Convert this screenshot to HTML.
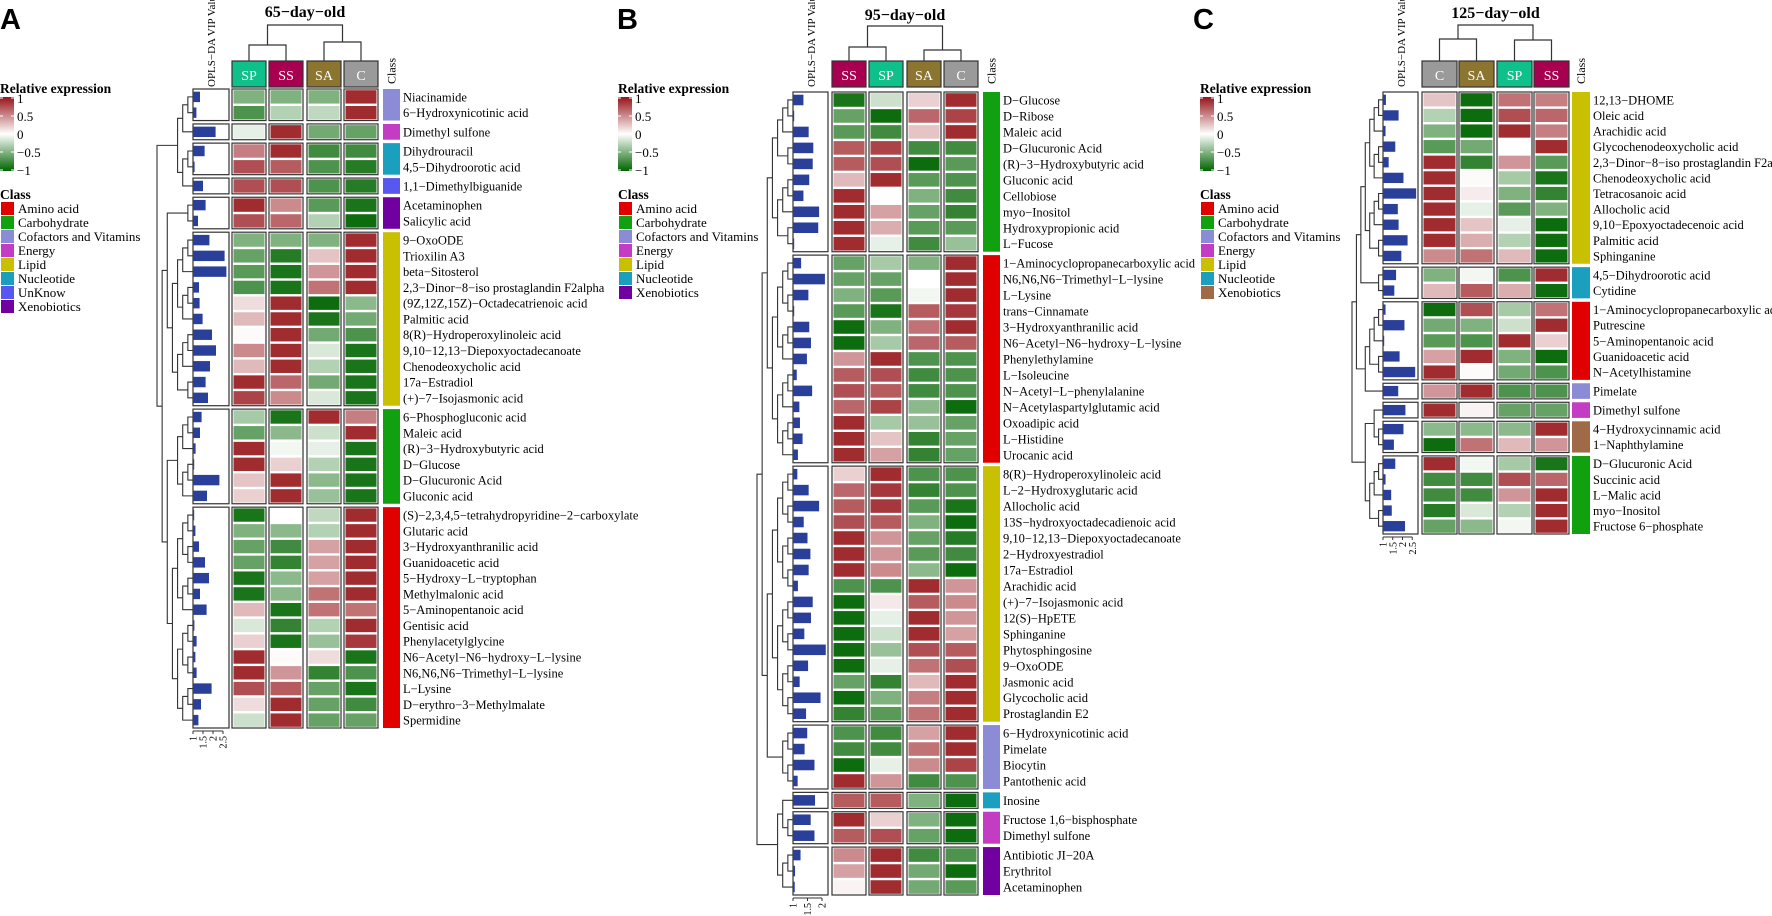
<!DOCTYPE html>
<html><head><meta charset="utf-8"><style>
html,body{margin:0;padding:0;background:#fff;}
svg{display:block;font-family:"Liberation Serif",serif;}
</style></head><body>
<svg id="fig" width="1772" height="916" viewBox="0 0 1772 916" xmlns="http://www.w3.org/2000/svg"></svg>
<script>
// ===== Panel A data (65-day-old) =====
const colsA = ['SP','SS','SA','C'];
const groupClassA = ['Cofactors and Vitamins','Energy','Nucleotide','UnKnow','Xenobiotics','Lipid','Carbohydrate','Amino acid'];
const groupSizeA = [2,1,2,1,2,11,6,14];
const namesA = ['Niacinamide','6−Hydroxynicotinic acid','Dimethyl sulfone','Dihydrouracil','4,5−Dihydroorotic acid','1,1−Dimethylbiguanide','Acetaminophen','Salicylic acid',
'9−OxoODE','Trioxilin A3','beta−Sitosterol','2,3−Dinor−8−iso prostaglandin F2alpha','(9Z,12Z,15Z)−Octadecatrienoic acid','Palmitic acid','8(R)−Hydroperoxylinoleic acid','9,10−12,13−Diepoxyoctadecanoate','Chenodeoxycholic acid','17a−Estradiol','(+)−7−Isojasmonic acid',
'6−Phosphogluconic acid','Maleic acid','(R)−3−Hydroxybutyric acid','D−Glucose','D−Glucuronic Acid','Gluconic acid',
'(S)−2,3,4,5−tetrahydropyridine−2−carboxylate','Glutaric acid','3−Hydroxyanthranilic acid','Guanidoacetic acid','5−Hydroxy−L−tryptophan','Methylmalonic acid','5−Aminopentanoic acid','Gentisic acid','Phenylacetylglycine','N6−Acetyl−N6−hydroxy−L−lysine','N6,N6,N6−Trimethyl−L−lysine','L−Lysine','D−erythro−3−Methylmalate','Spermidine'];
const vipA = [1.35,1.17,2.13,1.58,1.08,1.5,1.63,1.25,
1.82,2.58,2.67,1.3,1.33,1.48,1.95,2.15,1.85,1.63,1.75,
1.43,1.35,1.13,1.02,2.32,1.7,
1.0,1.12,1.3,1.6,1.8,1.35,1.68,1.07,1.18,1.12,1.18,1.93,1.4,1.27];
const valsA = [[-0.5,-0.5,-0.5,0.9],[-0.7,-0.3,-0.25,0.9],[-0.1,0.9,-0.55,-0.6],[0.55,0.9,-0.75,-0.75],[0.75,0.7,-0.7,-0.85],[0.75,0.75,-0.7,-0.85],[0.9,0.5,-0.65,-0.9],[0.75,0.65,-0.3,-0.95],
[-0.5,-0.5,-0.5,0.9],[-0.6,-0.85,0.25,0.9],[-0.65,-0.9,0.45,0.9],[-0.7,-0.9,0.6,0.9],[0.15,0.9,-0.95,-0.45],[0.3,0.9,-0.9,-0.55],[0.02,0.9,-0.55,-0.7],[0.5,0.9,-0.15,-0.9],[0.3,0.9,-0.3,-0.9],[0.9,0.65,-0.55,-0.9],[0.8,0.5,-0.15,-0.9],
[-0.35,-0.9,0.9,0.55],[-0.6,-0.45,-0.2,0.9],[0.9,-0.05,-0.1,-0.9],[0.9,0.2,-0.3,-0.9],[0.25,0.9,-0.45,-0.9],[0.2,0.9,-0.4,-0.9],
[-0.9,0.0,-0.25,0.9],[-0.5,-0.45,-0.3,0.9],[-0.6,-0.75,0.4,0.9],[-0.6,-0.8,0.4,0.9],[-0.9,-0.45,0.4,0.9],[-0.9,-0.45,0.6,0.9],[0.3,-0.9,0.6,0.6],[-0.15,-0.8,-0.3,0.9],[0.2,-0.9,-0.4,0.85],[0.9,0.02,0.15,-0.9],[0.9,0.45,-0.8,-0.7],[0.75,0.7,-0.6,-0.9],[0.15,0.9,-0.6,-0.75],[-0.2,0.9,-0.6,-0.6]];
const vipTicksA = ['1','1.5','2','2.5'];

// ===== Panel B data (95-day-old) =====
const colsB = ['SS','SP','SA','C'];
const groupClassB = ['Carbohydrate','Amino acid','Lipid','Cofactors and Vitamins','Nucleotide','Energy','Xenobiotics'];
const groupSizeB = [10,13,16,4,1,2,3];
const namesB = ['D−Glucose','D−Ribose','Maleic acid','D−Glucuronic Acid','(R)−3−Hydroxybutyric acid','Gluconic acid','Cellobiose','myo−Inositol','Hydroxypropionic acid','L−Fucose',
'1−Aminocyclopropanecarboxylic acid','N6,N6,N6−Trimethyl−L−lysine','L−Lysine','trans−Cinnamate','3−Hydroxyanthranilic acid','N6−Acetyl−N6−hydroxy−L−lysine','Phenylethylamine','L−Isoleucine','N−Acetyl−L−phenylalanine','N−Acetylaspartylglutamic acid','Oxoadipic acid','L−Histidine','Urocanic acid',
'8(R)−Hydroperoxylinoleic acid','L−2−Hydroxyglutaric acid','Allocholic acid','13S−hydroxyoctadecadienoic acid','9,10−12,13−Diepoxyoctadecanoate','2−Hydroxyestradiol','17a−Estradiol','Arachidic acid','(+)−7−Isojasmonic acid','12(S)−HpETE','Sphinganine','Phytosphingosine','9−OxoODE','Jasmonic acid','Glycocholic acid','Prostaglandin E2',
'6−Hydroxynicotinic acid','Pimelate','Biocytin','Pantothenic acid','Inosine','Fructose 1,6−bisphosphate','Dimethyl sulfone','Antibiotic JI−20A','Erythritol','Acetaminophen'];
const vipB = [1.36,1.0,1.54,1.7,1.68,1.56,1.36,1.9,1.87,1.0,
1.28,2.1,1.53,1.0,1.56,1.62,1.48,1.13,1.66,1.22,1.24,1.33,1.17,
1.15,1.54,1.9,1.37,1.5,1.6,1.54,1.17,1.68,1.62,1.39,2.13,1.52,1.23,1.95,1.45,
1.49,1.4,1.74,1.16,1.76,1.61,1.74,1.26,1.07,1.06];
const valsB = [[-0.9,-0.2,0.2,0.9],[-0.6,-0.95,0.65,0.8],[-0.65,-0.75,0.25,0.9],[0.7,0.8,-0.75,-0.75],[0.7,0.75,-0.95,-0.65],[0.3,0.9,-0.65,-0.7],[0.9,0.0,-0.5,-0.75],[0.9,0.4,-0.6,-0.8],[0.9,0.35,-0.65,-0.65],[0.9,-0.1,-0.75,-0.4],
[-0.6,-0.35,-0.5,0.9],[-0.6,-0.6,0.0,0.9],[-0.5,-0.65,-0.05,0.9],[-0.65,-0.9,0.7,0.85],[-0.95,-0.5,0.6,0.9],[-0.95,-0.35,0.65,0.7],[0.45,0.9,-0.7,-0.7],[0.7,0.75,-0.75,-0.7],[0.75,0.7,-0.75,-0.7],[0.65,0.8,-0.45,-0.95],[0.9,-0.35,-0.4,-0.6],[0.9,0.25,-0.8,-0.6],[0.9,0.4,-0.8,-0.6],
[0.2,0.9,-0.7,-0.7],[0.65,0.85,-0.8,-0.7],[0.7,0.85,-0.65,-0.9],[0.75,0.7,-0.5,-0.95],[0.9,0.45,-0.6,-0.85],[0.9,0.45,-0.65,-0.75],[0.9,0.5,-0.45,-0.95],[-0.7,-0.7,0.9,0.45],[-0.95,0.1,0.7,0.5],[-0.95,-0.1,0.9,0.45],[-0.95,-0.2,0.9,0.4],[-0.95,-0.4,0.75,0.7],[-0.95,-0.1,0.6,0.75],[-0.6,-0.8,0.3,0.9],[-0.95,-0.5,0.55,0.9],[-0.8,-0.65,0.6,0.9],
[-0.7,-0.75,0.4,0.9],[-0.75,-0.75,0.6,0.9],[-0.95,-0.1,0.5,0.8],[0.9,0.45,-0.75,-0.7],[0.7,0.7,-0.5,-0.95],[0.9,0.2,-0.5,-0.95],[0.7,0.75,-0.6,-0.95],[0.5,0.9,-0.75,-0.7],[0.4,0.9,-0.55,-0.95],[0.05,0.9,-0.55,-0.65]];
const vipTicksB = ['1','1.5','2'];

// ===== Panel C data (125-day-old) =====
const colsC = ['C','SA','SP','SS'];
const groupClassC = ['Lipid','Nucleotide','Amino acid','Cofactors and Vitamins','Energy','XenobioticsC','Carbohydrate'];
const groupSizeC = [11,2,5,1,1,2,5];
const namesC = ['12,13−DHOME','Oleic acid','Arachidic acid','Glycochenodeoxycholic acid','2,3−Dinor−8−iso prostaglandin F2alpha','Chenodeoxycholic acid','Tetracosanoic acid','Allocholic acid','9,10−Epoxyoctadecenoic acid','Palmitic acid','Sphinganine',
'4,5−Dihydroorotic acid','Cytidine','1−Aminocyclopropanecarboxylic acid','Putrescine','5−Aminopentanoic acid','Guanidoacetic acid','N−Acetylhistamine','Pimelate','Dimethyl sulfone','4−Hydroxycinnamic acid','1−Naphthylamine',
'D−Glucuronic Acid','Succinic acid','L−Malic acid','myo−Inositol','Fructose 6−phosphate'];
const vipC = [1.15,1.8,1.13,1.63,1.29,2.05,2.7,1.76,1.8,2.26,1.94,1.67,1.58,1.13,2.1,1.0,1.85,2.65,1.78,2.15,2.05,1.56,1.63,1.13,1.42,1.45,2.13];
const valsC = [[0.25,-0.95,0.6,0.55],[-0.3,-0.95,0.75,0.65],[-0.5,-0.95,0.9,0.55],[-0.65,-0.55,0.0,0.9],[0.9,-0.8,0.45,-0.65],[0.9,0.02,-0.35,-0.9],[0.9,0.08,-0.5,-0.8],[0.9,-0.1,-0.65,-0.5],[0.9,0.25,-0.1,-0.95],[0.9,0.35,-0.3,-0.95],[0.5,0.6,0.3,-0.95],
[-0.5,-0.05,-0.7,0.9],[0.3,0.7,0.35,-0.95],[-0.95,0.75,-0.35,0.6],[-0.55,-0.5,-0.2,0.9],[-0.65,-0.7,0.9,0.2],[0.4,0.9,-0.5,-0.95],[0.9,0.02,-0.55,-0.7],[0.45,0.9,-0.7,-0.7],[0.9,0.05,-0.6,-0.6],[-0.45,-0.45,-0.45,0.9],[-0.95,0.6,0.3,0.45],
[0.9,-0.05,-0.35,-0.9],[-0.75,-0.75,0.75,0.65],[-0.75,-0.75,0.45,0.9],[-0.85,-0.15,-0.3,0.9],[-0.6,-0.45,-0.05,0.9]];
const vipTicksC = ['1','1.5','2','2.5'];

const legendClassesAB = ['Amino acid','Carbohydrate','Cofactors and Vitamins','Energy','Lipid','Nucleotide','UnKnow','Xenobiotics'];
const legendClassesB = ['Amino acid','Carbohydrate','Cofactors and Vitamins','Energy','Lipid','Nucleotide','Xenobiotics'];
const legendClassesC = ['Amino acid','Carbohydrate','Cofactors and Vitamins','Energy','Lipid','Nucleotide','XenobioticsC'];
const legendTicks = ['1','0.5','0','−0.5','−1'];

const classColor = {'Amino acid':'#e00000','Carbohydrate':'#10a010','Cofactors and Vitamins':'#8c8cd6','Energy':'#c43cc4','Lipid':'#c8c000','Nucleotide':'#1a9fbf','UnKnow':'#5858f0','Xenobiotics':'#7000a0','XenobioticsC':'#a06a48'};
const colColor = {'SP':'#10c08a','SS':'#a80050','SA':'#8b7531','C':'#9a9a9a'};

const NS='http://www.w3.org/2000/svg';
const svg=document.getElementById('fig');
function el(tag,attrs,parent){const e=document.createElementNS(NS,tag);for(const k in attrs)e.setAttribute(k,attrs[k]);(parent||svg).appendChild(e);return e;}
function txt(s,attrs,parent){const e=el('text',attrs,parent);e.textContent=s;return e;}
function color(v){v=Math.max(-1,Math.min(1,v));const t=Math.abs(v);const end=v>=0?[150,20,25]:[0,100,0];
 const c=end.map(e=>Math.round(255+(e-255)*t));return `rgb(${c[0]},${c[1]},${c[2]})`;}

function legend(x,classes){
 const g=el('g',{});
 
 
 txt('Relative expression',{x:x,y:93,'font-size':13.5,'font-weight':'bold'},g);
 const id='grad'+x;const d=el('defs',{},g);const lg=el('linearGradient',{id:id,x1:0,y1:0,x2:0,y2:1},d);
 [[0,color(1)],[0.5,'#fff'],[1,color(-1)]].forEach(s=>el('stop',{offset:s[0],'stop-color':s[1]},lg));
 const cb=el('rect',{x:x,y:97,width:14,height:74,fill:`url(#${id})`},g);
 
 
 legendTicks.forEach((t,i)=>{const yy=98+i*18;
  el('line',{x1:x,x2:x+3,y1:yy,y2:yy,stroke:'#fff','stroke-width':1},g);el('line',{x1:x+11,x2:x+14,y1:yy,y2:yy,stroke:'#fff','stroke-width':1},g);
  const lt=txt(t,{x:x+17,y:yy+5,'font-size':13},g);
  
  });
 txt('Class',{x:x,y:199,'font-size':13.5,'font-weight':'bold'},g);
 classes.forEach((c,i)=>{const yy=202+i*14;
  el('rect',{x:x+1,y:yy,width:13,height:13,fill:classColor[c]},g);
  const lt=txt(c==='XenobioticsC'?'Xenobiotics':c,{x:x+18,y:yy+11,'font-size':13},g);
  
  });
}

function panel(P){
 const g=el('g',{});
 
 
 const L=txt(P.letter,{x:P.letterX,y:29,'font-size':29,'font-weight':'bold','font-family':'Liberation Sans, sans-serif'},g);
 
 
 const colW=P.colW, cx=P.colX.map(x=>x+colW/2);
 const T=txt(P.title,{x:(P.colX[0]+P.colX[3]+colW)/2,y:P.titleY,'font-size':16,'font-weight':'bold','text-anchor':'middle'},g);
 
 
 // column dendrogram
 const dl={stroke:'#333','stroke-width':1.2,fill:'none'};
 const m1=(cx[0]+cx[1])/2,m2=(cx[2]+cx[3])/2;
 el('path',Object.assign({d:`M${cx[0]},61V${P.j1}H${cx[1]}V61 M${cx[2]},61V${P.j2}H${cx[3]}V61 M${m1},${P.j1}V${P.j0}H${m2}V${P.j2}`},dl),g);
 // headers
 P.cols.forEach((c,i)=>{
  const r=el('rect',{x:P.colX[i],y:61,width:colW,height:26,fill:colColor[c],stroke:'#333','stroke-width':1.2},g);
  
  
  txt(c,{x:cx[i],y:80,'font-size':14,fill:'#fff','text-anchor':'middle'},g);
 });
 const vt=txt('OPLS−DA VIP Value',{x:0,y:0,'font-size':11,transform:`translate(${P.vipX+22},87) rotate(-90)`},g);
 
 
 const ct=txt('Class',{x:0,y:0,'font-size':12,transform:`translate(${P.classX+P.classW/2+4},84) rotate(-90)`},g);
 
 
 const gap=3.4, n=P.names.length, ng=P.sizes.length;
 const h=(P.bottom-P.top-gap*(ng-1))/n;
 let idx=0, y=P.top; const leafY=[]; const groupTrees=[];
 P.sizes.forEach((sz,gi)=>{
  const gy=y, gh=sz*h;
  // vip box
  el('rect',{x:P.vipX,y:gy,width:P.vipW,height:gh,fill:'#fff',stroke:'#333','stroke-width':1.2},g);
  // heatmap group boxes
  P.colX.forEach(x=>el('rect',{x:x,y:gy,width:colW,height:gh,fill:'#fff',stroke:'#333','stroke-width':1.2},g));
  const cb=el('rect',{x:P.classX,y:gy,width:P.classW,height:gh,fill:classColor[P.classes[gi]]},g);
  
  
  const leaves=[];
  for(let k=0;k<sz;k++,idx++){
   const ry=gy+k*h, mid=ry+h/2; leafY.push(mid); leaves.push({y:mid,lvl:0});
   P.vals[idx].forEach((v,ci)=>{
    const c=el('rect',{x:P.colX[ci]+1.5,y:ry+1.2,width:colW-3,height:h-2.4,fill:color(v)},g);
    
    
   });
   const bw=Math.max(1.2,(P.vip[idx]-1)*P.vipScale);
   const b=el('rect',{x:P.vipX,y:mid-h*0.33,width:bw,height:h*0.66,fill:'#2a3f9a'},g);
   
   
   const lab=txt(P.names[idx],{x:P.labelX,y:mid+4.5,'font-size':12.5},g);
   
   
  }
  groupTrees.push(leaves);
  y+=gh+gap;
 });
 // row dendrogram (balanced merges)
 function merge(nodes){if(nodes.length===1)return nodes[0];const m=Math.ceil(nodes.length/2);
  const a=merge(nodes.slice(0,m)),b=merge(nodes.slice(m));return {a:a,b:b,lvl:Math.max(a.lvl,b.lvl)+1,y:(a.y+b.y)/2};}
 const root=merge(groupTrees.map(l=>merge(l)));
 const step=(P.vipX-P.rootX)/root.lvl;
 let dp='';
 function draw(nd){if(!nd.a)return;const x=P.vipX-nd.lvl*step;
  const xa=P.vipX-nd.a.lvl*step, xb=P.vipX-nd.b.lvl*step;
  dp+=`M${xa},${nd.a.y}H${x}V${nd.b.y}H${xb}`;draw(nd.a);draw(nd.b);}
 draw(root);
 const dd=el('path',{d:dp,stroke:'#333','stroke-width':1.1,fill:'none'},g);
 
 
 // vip axis
 const ay=P.bottom+3;
 el('line',{x1:P.vipX,x2:P.vipX+(P.ticks.length-1)*0.5*P.vipScale,y1:ay,y2:ay,stroke:'#333','stroke-width':1},g);
 P.ticks.forEach((t,i)=>{const tx=P.vipX+(parseFloat(t)-1)*P.vipScale;
  el('line',{x1:tx,x2:tx,y1:ay,y2:ay+3,stroke:'#333'},g);
  const tl=txt(t,{x:0,y:0,'font-size':10,'text-anchor':'end',transform:`translate(${tx+3.5},${ay+5}) rotate(-90)`},g);
  
  });
}

legend(0,legendClassesAB);
legend(618,legendClassesB);
legend(1200,legendClassesC);

panel({letter:'A',letterX:0,title:'65−day−old',titleY:17,cols:colsA,colX:[232,269,307,344],colW:34,j1:45,j2:42,j0:25,
 vipX:193,vipW:36,vipScale:20,classX:383,classW:17,labelX:403,rootX:157,top:89,bottom:728,
 names:namesA,vip:vipA,vals:valsA,sizes:groupSizeA,classes:groupClassA,ticks:vipTicksA});
panel({letter:'B',letterX:617,title:'95−day−old',titleY:20,cols:colsB,colX:[832,869,907,944],colW:34,j1:47,j2:50,j0:26,
 vipX:793,vipW:35,vipScale:29,classX:983,classW:17,labelX:1003,rootX:757,top:92,bottom:895,
 names:namesB,vip:vipB,vals:valsB,sizes:groupSizeB,classes:groupClassB,ticks:vipTicksB});
panel({letter:'C',letterX:1193,title:'125−day−old',titleY:18,cols:colsC,colX:[1422,1459,1497,1534],colW:35,j1:39,j2:40,j0:25,
 vipX:1383,vipW:35,vipScale:19.5,classX:1572,classW:18,labelX:1593,rootX:1352,top:92,bottom:534,
 names:namesC,vip:vipC,vals:valsC,sizes:groupSizeC,classes:groupClassC,ticks:vipTicksC});
</script>
</body></html>
